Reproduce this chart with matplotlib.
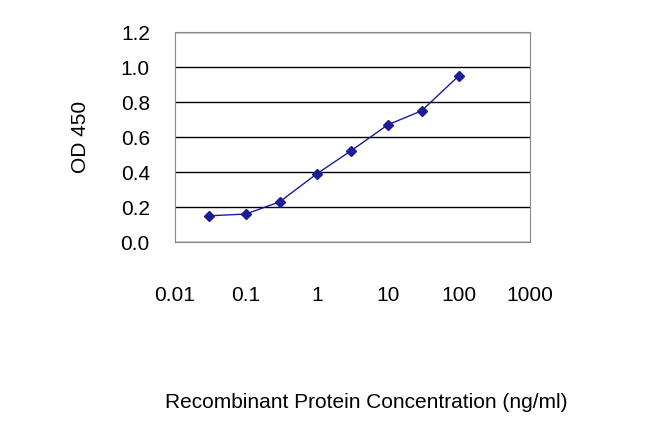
import matplotlib
matplotlib.use("Agg")
import matplotlib.pyplot as plt

conc = [0.03, 0.1, 0.3, 1, 3, 10, 30, 100]
od = [0.15, 0.16, 0.23, 0.39, 0.52, 0.67, 0.75, 0.95]
xticks = [0.01, 0.1, 1, 10, 100, 1000]
xlabels = ["0.01", "0.1", "1", "10", "100", "1000"]
yticks = [0.0, 0.2, 0.4, 0.6, 0.8, 1.0, 1.2]

plt.rcParams['font.family'] = ['Liberation Sans', 'DejaVu Sans']
fig = plt.figure(figsize=(6.5, 4.33), dpi=100)
ax = fig.add_axes([0.269, 0.441, 0.546, 0.485])
ax.plot(conc, od, color='#1c1c96', marker='D', markersize=5, linewidth=1)
ax.set_xscale('log')
ax.set_xlim(0.01, 1000)
ax.set_ylim(0, 1.2)
ax.set_yticks(yticks)
ax.set_yticklabels([f"{v:.1f}" for v in yticks], fontsize=15)
ax.set_xticks(xticks)
ax.set_xticklabels(xlabels, fontsize=15)
ax.minorticks_off()
ax.tick_params(axis='y', length=0, pad=18)
ax.tick_params(axis='x', length=0, pad=32)
ax.grid(axis='y', color='black', linewidth=1)
for s in ax.spines.values():
    s.set_color('#888888')
ax.set_ylabel("OD 450", fontsize=15, labelpad=22)
ax.set_xlabel("Recombinant Protein Concentration (ng/ml)", fontsize=15, labelpad=48)
ax.xaxis.set_label_coords(0.54, -0.72)
fig.savefig("out.png", dpi=100)
